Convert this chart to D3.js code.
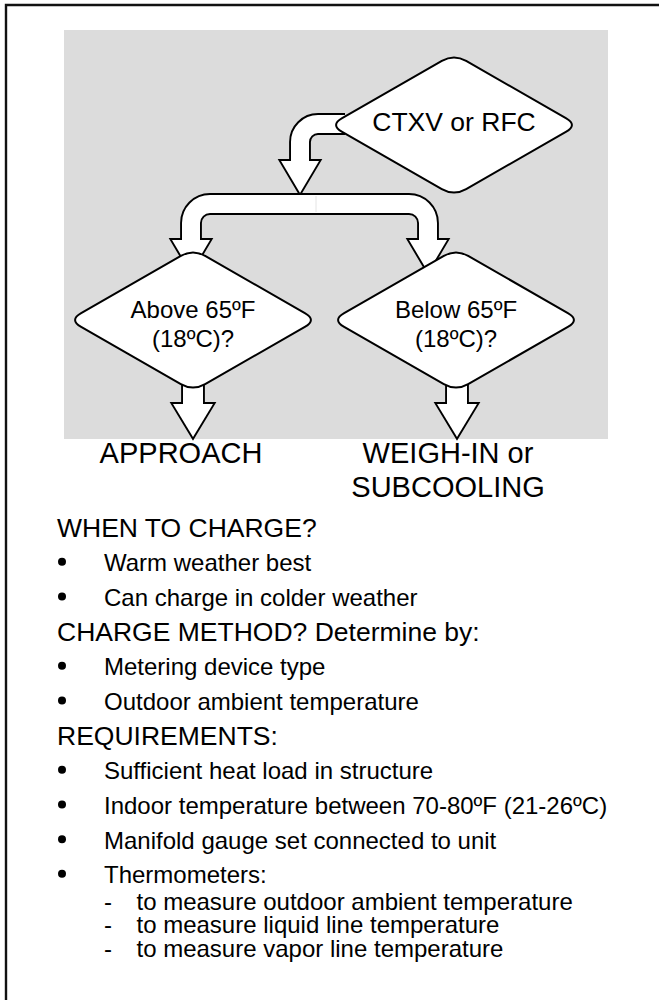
<!DOCTYPE html>
<html>
<head>
<meta charset="utf-8">
<script src="https://cdn.jsdelivr.net/npm/d3@7"></script>
<style>
  html, body { margin: 0; padding: 0; background: #fff; }
  svg { display: block; }
  text { font-family: "Liberation Sans", Arial, Helvetica, sans-serif; fill: #000; }
</style>
</head>
<body>
<script>
// ---- content ----
const decisions = [
    { id: 'metering', lines: ['CTXV or RFC'] },
    { id: 'above',    lines: ['Above 65ºF', '(18ºC)?'] },
    { id: 'below',    lines: ['Below 65ºF', '(18ºC)?'] }
];
const outcomes = [
    { id: 'above', lines: ['APPROACH'] },
    { id: 'below', lines: ['WEIGH-IN or', 'SUBCOOLING'] }
];
const sections = [
    { title: 'WHEN TO CHARGE?', items: ['Warm weather best', 'Can charge in colder weather'] },
    { title: 'CHARGE METHOD? Determine by:', items: ['Metering device type', 'Outdoor ambient temperature'] },
    { title: 'REQUIREMENTS:', items: ['Sufficient heat load in structure',
                                     'Indoor temperature between 70-80ºF (21-26ºC)',
                                     'Manifold gauge set connected to unit',
                                     'Thermometers:'] }
];
const thermometerUses = ['to measure outdoor ambient temperature',
                         'to measure liquid line temperature',
                         'to measure vapor line temperature'];

// ---- layout ----
const W = 659, H = 1000;
const panel = { x0: 64, y0: 30, x1: 608, y1: 439, fill: '#dcdcdc' };
const diamondAt = {
    metering: { cx: 454, cy: 125, fs: 26.5, dy: [6] },
    above:    { cx: 193, cy: 320, fs: 24,   dy: [-2, 27] },
    below:    { cx: 456, cy: 320, fs: 24,   dy: [-2, 27] }
};
const dia = { hw: 124, hh: 71, r: 14 };
const outcomeAt = {
    above: { cx: 181, y: [463] },
    below: { cx: 448, y: [463, 497] }
};
const pipeW = 18, edge = 1.9;

const svg = d3.select('body').append('svg')
    .attr('width', W).attr('height', H);

// outer frame (only top and left edges visible in the crop)
svg.append('path')
    .attr('d', `M6,${H} V5 H${W}`)
    .attr('fill', 'none')
    .attr('stroke', '#111')
    .attr('stroke-width', 2.4);

svg.append('rect')
    .attr('x', panel.x0).attr('y', panel.y0)
    .attr('width', panel.x1 - panel.x0).attr('height', panel.y1 - panel.y0)
    .attr('fill', panel.fill);

// ---- flow pipes ----
function topPipe() {
    const p = d3.path(), r = 18, x = 300, y = 124;
    p.moveTo(345, y);
    p.lineTo(x + r, y);
    p.arcTo(x, y, x, y + r, r);
    p.lineTo(x, 166);
    return p.toString();
}
function branchPipe() {
    const p = d3.path(), r = 19, y = 204, xl = 191, xr = 428;
    p.moveTo(xl, 244);
    p.lineTo(xl, y + r);
    p.arcTo(xl, y, xl + r, y, r);
    p.lineTo(xr - r, y);
    p.arcTo(xr, y, xr, y + r, r);
    p.lineTo(xr, 244);
    return p.toString();
}
const pipes = [
    { d: topPipe(), w: pipeW },
    { d: branchPipe(), w: pipeW },
    { d: 'M193,380 V408', w: 20 },
    { d: 'M457,380 V408', w: 20 }
];
const heads = [
    { x: 300, y0: 161, hw: 19, tip: 193 },
    { x: 191, y0: 240, hw: 19, tip: 272 },
    { x: 428, y0: 240, hw: 19, tip: 272 },
    { x: 193, y0: 404, hw: 20, tip: 437 },
    { x: 457, y0: 404, hw: 20, tip: 437 }
];
const headPts = h => [[h.x - h.hw, h.y0], [h.x + h.hw, h.y0], [h.x, h.tip]].map(p => p.join(',')).join(' ');

const flow = svg.append('g');
// black outline layer
flow.selectAll('path.outline').data(pipes).join('path')
    .attr('class', 'outline')
    .attr('d', d => d.d).attr('fill', 'none')
    .attr('stroke', '#000').attr('stroke-width', d => d.w + 2 * edge);
flow.selectAll('polygon.outline').data(heads).join('polygon')
    .attr('class', 'outline')
    .attr('points', headPts)
    .attr('fill', '#000').attr('stroke', '#000')
    .attr('stroke-width', 2 * edge).attr('stroke-linejoin', 'miter');
// white fill layer
flow.selectAll('path.fill').data(pipes).join('path')
    .attr('class', 'fill')
    .attr('d', d => d.d).attr('fill', 'none')
    .attr('stroke', '#fff').attr('stroke-width', d => d.w);
flow.selectAll('polygon.fill').data(heads).join('polygon')
    .attr('class', 'fill')
    .attr('points', headPts)
    .attr('fill', '#fff');
// faint seam in the branch bar
flow.append('line')
    .attr('x1', 316).attr('x2', 316).attr('y1', 196).attr('y2', 212)
    .attr('stroke', '#e4e4e4').attr('stroke-width', 1);

// ---- decision diamonds ----
function roundedDiamond(cx, cy, hw, hh, r) {
    const v = [[cx, cy - hh], [cx + hw, cy], [cx, cy + hh], [cx - hw, cy]];
    const k = r / Math.hypot(hw, hh);
    const p = d3.path();
    v.forEach((c, i) => {
        const prev = v[(i + 3) % 4], next = v[(i + 1) % 4];
        const a = [c[0] + (prev[0] - c[0]) * k, c[1] + (prev[1] - c[1]) * k];
        const b = [c[0] + (next[0] - c[0]) * k, c[1] + (next[1] - c[1]) * k];
        if (i === 0) p.moveTo(a[0], a[1]); else p.lineTo(a[0], a[1]);
        p.quadraticCurveTo(c[0], c[1], b[0], b[1]);
    });
    p.closePath();
    return p.toString();
}

const nodes = svg.selectAll('g.decision').data(decisions).join('g')
    .attr('class', 'decision');
nodes.append('path')
    .attr('d', d => { const a = diamondAt[d.id]; return roundedDiamond(a.cx, a.cy, dia.hw, dia.hh, dia.r); })
    .attr('fill', '#fff').attr('stroke', '#000').attr('stroke-width', 2);
nodes.each(function (d) {
    const a = diamondAt[d.id];
    d3.select(this).selectAll('text').data(d.lines).join('text')
        .attr('x', a.cx).attr('y', (l, i) => a.cy + a.dy[i])
        .attr('text-anchor', 'middle')
        .style('font-size', `${a.fs}px`)
        .text(l => l);
});

// ---- outcomes ----
outcomes.forEach(o => {
    const a = outcomeAt[o.id];
    svg.selectAll(null).data(o.lines).join('text')
        .attr('x', a.cx).attr('y', (l, i) => a.y[i])
        .attr('text-anchor', 'middle')
        .style('font-size', '29px')
        .text(l => l);
});

// ---- notes list ----
const rows = [];
sections.forEach(s => {
    rows.push({ kind: 'title', text: s.title });
    s.items.forEach(t => rows.push({ kind: 'item', text: t }));
});
const rowY = d3.scaleLinear().domain([0, rows.length - 1]).range([536.7, 883.3]);
const subY = d3.scaleLinear().domain([0, 1]).range([910, 933.3]);

const list = svg.append('g');
list.selectAll('text.row').data(rows).join('text')
    .attr('class', 'row')
    .attr('x', d => d.kind === 'title' ? 57 : 104)
    .attr('y', (d, i) => rowY(i))
    .style('font-size', d => d.kind === 'title' ? '26.5px' : '24px')
    .text(d => d.text);
list.selectAll('circle').data(rows.map((d, i) => ({ ...d, i })).filter(d => d.kind === 'item')).join('circle')
    .attr('cx', 62).attr('cy', d => rowY(d.i) - 9.5).attr('r', 4)
    .attr('fill', '#000');

const subs = list.selectAll('g.sub').data(thermometerUses).join('g')
    .attr('class', 'sub')
    .attr('transform', (d, i) => `translate(0,${subY(i)})`);
subs.append('text').attr('x', 104).style('font-size', '24px').text('-');
subs.append('text').attr('x', 136.5).style('font-size', '24px').text(d => d);
</script>
</body>
</html>
